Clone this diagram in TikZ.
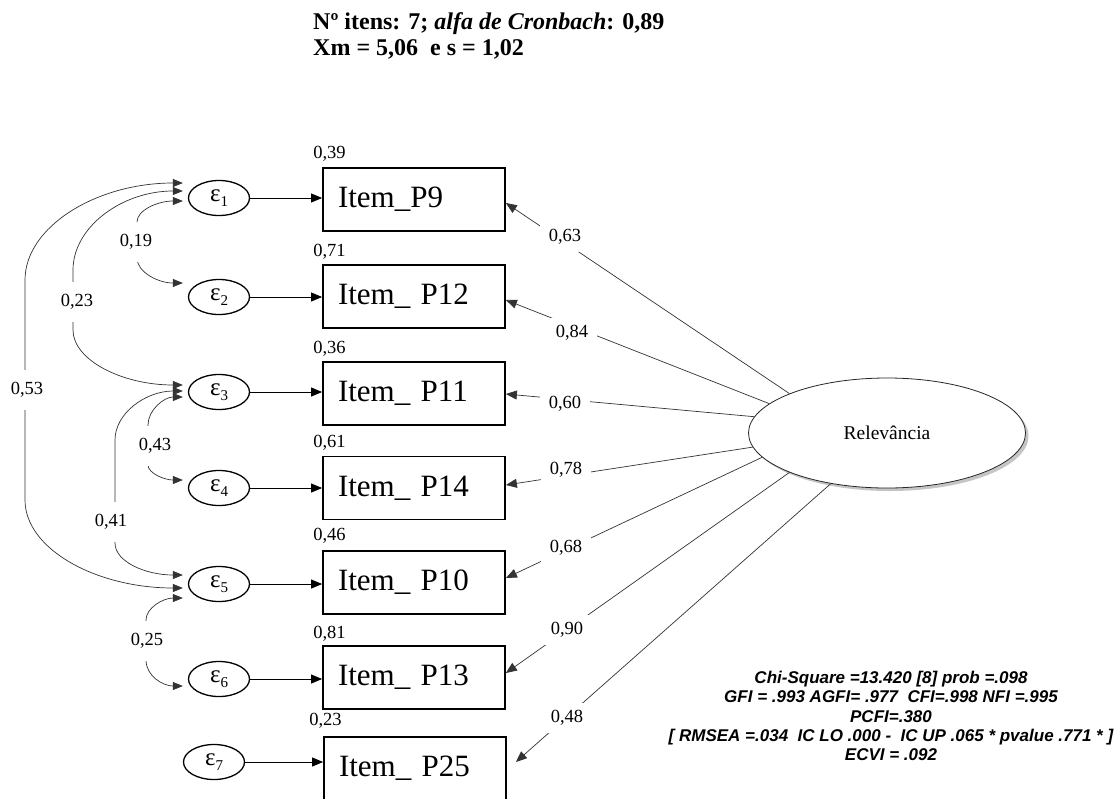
\documentclass[tikz,border=0pt]{standalone}
\usepackage{fontspec}
\setmainfont{Liberation Serif}
\newfontfamily\statfont{Liberation Sans}[BoldItalicFont={Liberation Sans Bold Italic}]
\usetikzlibrary{shapes.geometric,arrows.meta,calc,shadows}
\newcommand{\errlbl}[1]{ε\raisebox{-5pt}{\fontsize{15}{15}\selectfont #1}}
\begin{document}
\begin{tikzpicture}[x=1pt,y=-1pt,
 box/.style={draw, line width=1.8pt, text width=152pt, inner xsep=15pt, minimum height=63pt, align=left, font=\fontsize{31}{36}\selectfont},
 err/.style={draw, ellipse, line width=1.3pt, minimum width=61pt, minimum height=35pt, inner sep=0pt, font=\fontsize{25}{25}\selectfont},
 num/.style={font=\fontsize{18.5}{21}\selectfont, inner sep=1pt},
 gapx/.style={num, fill=white, inner xsep=9pt, inner ysep=7pt},
 gapy/.style={num, fill=white, inner xsep=2pt, inner ysep=12pt},
 link/.style={-{Triangle[length=11pt,width=9pt]}, line width=0.9pt},
 load/.style={-{Triangle[length=11pt,width=9pt]}, line width=0.7pt, draw=black!80},
 corr/.style={{Triangle[length=10pt,width=8pt]}-{Triangle[length=10pt,width=8pt]}, line width=0.7pt, draw=black!80},
 hdr/.style={font=\bfseries\fontsize{24}{26}\selectfont, inner sep=0pt},
 stat/.style={font=\statfont\bfseries\itshape\fontsize{17}{19.3}\selectfont, align=center, inner sep=0pt},
 latent/.style={draw=black!85, ellipse, line width=0.8pt, fill=white, minimum width=277pt, minimum height=110pt, font=\fontsize{19.5}{22}\selectfont, drop shadow={shadow xshift=3pt, shadow yshift=-3pt, fill=black!45}}
]
\clip (0,0) rectangle (1116,798);
\fill[white] (0,0) rectangle (1116,798);

% header
\node[hdr, anchor=base west] (h1) at (313,29) {Nº itens: 7; \textit{alfa de Cronbach}: 0,89};
\node[hdr, anchor=base west] (h2) at (313,55) {Xm = 5,06 \ e s = 1,02};

% boxes
\node[box] (b1) at (414,199.5) {Item\_P9};
\node[box] (b2) at (414,296.5) {Item\_ P12};
\node[box] (b3) at (414,393.5) {Item\_ P11};
\node[box] (b4) at (414,488) {Item\_ P14};
\node[box] (b5) at (414,582.5) {Item\_ P10};
\node[box] (b6) at (414,677.5) {Item\_ P13};
\node[box] (b7) at (415,768.5) {Item\_ P25};

% box labels
\node[num, anchor=west] (r1) at ($(b1.north west)+(-10,-13)$) {0,39};
\node[num, anchor=west] (r2) at ($(b2.north west)+(-10,-12)$) {0,71};
\node[num, anchor=west] (r3) at ($(b3.north west)+(-10,-12)$) {0,36};
\node[num, anchor=west] (r4) at ($(b4.north west)+(-10,-13)$) {0,61};
\node[num, anchor=west] (r5) at ($(b5.north west)+(-10,-14)$) {0,46};
\node[num, anchor=west] (r6) at ($(b6.north west)+(-10,-11)$) {0,81};
\node[num, anchor=west] (r7) at ($(b7.north west)+(-15,-15)$) {0,23};

% errors
\node[err] (e1) at (219,198) {\errlbl{1}};
\node[err] (e2) at (219,297) {\errlbl{2}};
\node[err] (e3) at (219,392) {\errlbl{3}};
\node[err] (e4) at (219,488) {\errlbl{4}};
\node[err] (e5) at (219,584) {\errlbl{5}};
\node[err] (e6) at (219,679) {\errlbl{6}};
\node[err] (e7) at (214,762) {\errlbl{7}};

\foreach \i in {1,...,7}{
  \draw[link] (e\i.east) -- (e\i.east -| b\i.west);
}

% latent
\node[latent] (rel) at (887,433) {Relevância};

% loadings
\draw[load] (rel.158) -- ($(b1.east)+(0,3.5)$);
\draw[load] (rel.166) -- ($(b2.east)+(0,3.5)$);
\draw[load] (rel.173) -- ($(b3.east)+(0,0.5)$);
\draw[load] (rel.186) -- ($(b4.east)+(0,-3)$);
\draw[load] (rel.191) -- ($(b5.east)+(0,-4.5)$);
\draw[load] (rel.202) -- ($(b6.east)+(0,-4.5)$);
\draw[load] (rel.222) -- ($(b7.east)+(9,-6.5)$);
\node[gapx] (w1) at (565,237) {0,63};
\node[gapx] (w2) at (572,333) {0,84};
\node[gapx] (w3) at (565,404) {0,60};
\node[gapx] (w4) at (566,470) {0,78};
\node[gapx] (w5) at (566,548) {0,68};
\node[gapx] (w6) at (567,630) {0,90};
\node[gapx] (w7) at (567,718) {0,48};

% correlations
\draw[corr] ($(e1.west)+(-5,3)$) .. controls (158,201) and (137,210) .. (137,222) -- (137,258) .. controls (137,272) and (158,283) .. ($(e2.west)+(-5,-14)$);
\draw[corr] ($(e1.west)+(-5,-15)$) .. controls (96,183) and (25,227) .. (25,280) -- (25,500) .. controls (25,549) and (96,588) .. ($(e5.west)+(-5,4)$);
\draw[corr] ($(e1.west)+(-5,-7)$) .. controls (122,191) and (73,227) .. (73,270) -- (73,330) .. controls (73,360) and (122,385) .. ($(e3.west)+(-5,-7)$);
\draw[corr] ($(e3.west)+(-5,-1)$) .. controls (146,391) and (115,413) .. (115,440) -- (115,543) .. controls (115,562) and (146,575) .. ($(e5.west)+(-5,-9)$);
\draw[corr] ($(e3.west)+(-5,5)$) .. controls (164,397) and (148,410) .. (148,425) -- (148,465) .. controls (148,473) and (164,480) .. ($(e4.west)+(-5,-8)$);
\draw[corr] ($(e5.west)+(-5,14)$) .. controls (163,598) and (146,608) .. (146,620) -- (146,660) .. controls (146,676) and (163,686) .. ($(e6.west)+(-5,7)$);
\node[gapy] (c1) at (136,242) {0,19};
\node[gapy] (c2) at (27,390) {0,53};
\node[gapy] (c3) at (77,302) {0,23};
\node[gapy] (c4) at (111,522) {0,41};
\node[gapy] (c5) at (155,446) {0,43};
\node[gapy] (c6) at (147,641) {0,25};

% fit statistics
\node[stat] (st) at (891,716) {Chi-Square =13.420 [8] prob =.098\\GFI = .993 AGFI= .977 \ CFI=.998 NFI =.995\\PCFI=.380\\{[} RMSEA =.034 \ IC LO .000 - \ IC UP .065 * pvalue .771 * ]\\ECVI = .092};
\end{tikzpicture}
\end{document}
